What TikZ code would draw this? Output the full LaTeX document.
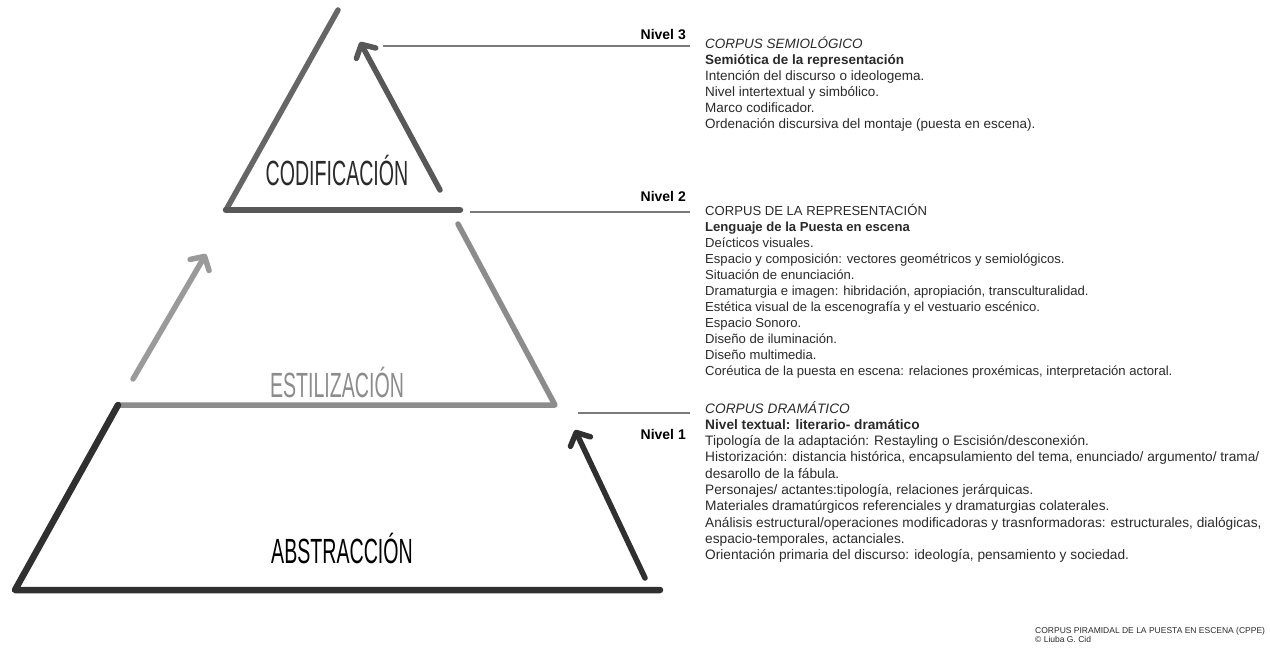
\documentclass[tikz,border=0pt]{standalone}
\usepackage{fontspec}
\setmainfont{Liberation Sans}
\newfontfamily\condfont[FakeStretch=0.56]{Liberation Sans}
\usetikzlibrary{arrows.meta}
\definecolor{gtop}{HTML}{666666}
\definecolor{gtopb}{HTML}{585858}
\definecolor{gmid}{HTML}{8C8C8C}
\definecolor{gmida}{HTML}{9A9A9A}
\definecolor{gbot}{HTML}{303030}
\definecolor{gline}{HTML}{7A7A7A}
\definecolor{txt}{HTML}{2A2A2A}
\tikzset{
  pyr/.style={line width=5.5pt, line cap=round, line join=round},
  uparrow/.style={line width=5.5pt, line cap=round, -{Straight Barb[length=10pt,width=22pt,round,line width=5.5pt]}},
  nivline/.style={line width=1.4pt, draw=gline},
  nivlabel/.style={font=\bfseries\fontsize{14}{16}\selectfont, anchor=base east, inner sep=0pt, text=black},
  levlabel/.style={font=\condfont\fontsize{35}{37}\selectfont, inner sep=0pt},
  textblock/.style={anchor=north west, inner sep=0pt, align=left, text=txt, font=\fontsize{13.1}{16}\selectfont},
  foot/.style={anchor=north west, inner sep=0pt, align=left, text=txt, font=\fontsize{8.5}{9.5}\selectfont}
}
\begin{document}
\begin{tikzpicture}[x=1pt,y=-1pt]
\useasboundingbox (0,0) rectangle (1270,650);
% coordinates
\coordinate (apex) at (338,10);
\coordinate (tbl) at (226,210);
\coordinate (tbr) at (460,210);
\coordinate (mtr) at (458,224);
\coordinate (mbr) at (555,405);
\coordinate (mbl) at (118,405);
\coordinate (bbl) at (15,590);
\coordinate (bbr) at (660,590);
\coordinate (a3s) at (440,190);
\coordinate (a3e) at (360,42);
\coordinate (a2s) at (133,379);
\coordinate (a2e) at (206,254);
\coordinate (a1s) at (645,578);
\coordinate (a1e) at (575,430);
% pyramid
\draw[pyr, gtop] (apex) -- (tbl);
\draw[pyr, gtopb, line width=6.5pt] (tbl) -- (tbr);
\draw[pyr, gmid] (mtr) -- (mbr) -- (mbl);
\draw[pyr, gbot, line width=6.5pt] (mbl) -- (bbl) -- (bbr);
% arrows
\draw[uparrow, gtopb] (a3s) -- (a3e);
\draw[uparrow, gmida] (a2s) -- (a2e);
\draw[uparrow, gbot] (a1s) -- (a1e);
% level labels
\node[levlabel, text=txt] (codif) at (337,170) {CODIFICACIÓN};
\node[levlabel, text=gmid] (estil) at (337,382) {ESTILIZACIÓN};
\node[levlabel, text=black] (abstr) at (342,548) {ABSTRACCIÓN};
% nivel lines
\coordinate (n3a) at (383,46); \coordinate (n3b) at (690,46);
\coordinate (n2a) at (470,212); \coordinate (n2b) at (690,212);
\coordinate (n1a) at (578,413); \coordinate (n1b) at (690,413);
\draw[nivline] (n3a) -- (n3b);
\draw[nivline] (n2a) -- (n2b);
\draw[nivline] (n1a) -- (n1b);
\node[nivlabel] (niv3) at (686,40) {Nivel 3};
\node[nivlabel] (niv2) at (686,201) {Nivel 2};
\node[nivlabel] (niv1) at (686,439) {Nivel 1};
% text blocks
\node[textblock, font=\fontsize{13.5}{16}\selectfont] (b3) at (705,37) {\textit{CORPUS SEMIOLÓGICO}\\
\textbf{Semiótica de la representación}\\
Intención del discurso o ideologema.\\
Nivel intertextual y simbólico.\\
Marco codificador.\\
Ordenación discursiva del montaje (puesta en escena).};
\node[textblock] (b2) at (705,204) {CORPUS DE LA REPRESENTACIÓN\\
\textbf{Lenguaje de la Puesta en escena}\\
Deícticos visuales.\\
Espacio y composición: vectores geométricos y semiológicos.\\
Situación de enunciación.\\
Dramaturgia e imagen: hibridación, apropiación, transculturalidad.\\
Estética visual de la escenografía y el vestuario escénico.\\
Espacio Sonoro.\\
Diseño de iluminación.\\
Diseño multimedia.\\
Coréutica de la puesta en escena: relaciones proxémicas, interpretación actoral.};
\node[textblock, font=\fontsize{13.7}{16.3}\selectfont] (b1) at (705,401) {\textit{CORPUS DRAMÁTICO}\\
\textbf{Nivel textual: literario- dramático}\\
Tipología de la adaptación: Restayling o Escisión/desconexión.\\
Historización: distancia histórica, encapsulamiento del tema, enunciado/ argumento/ trama/\\
desarollo de la fábula.\\
Personajes/ actantes:tipología, relaciones jerárquicas.\\
Materiales dramatúrgicos referenciales y dramaturgias colaterales.\\
Análisis estructural/operaciones modificadoras y trasnformadoras: estructurales, dialógicas,\\
espacio-temporales, actanciales.\\
Orientación primaria del discurso: ideología, pensamiento y sociedad.};
\node[foot] (credit) at (1035,627) {CORPUS PIRAMIDAL DE LA PUESTA EN ESCENA (CPPE)\\
© Liuba G. Cid};
\end{tikzpicture}
\end{document}
